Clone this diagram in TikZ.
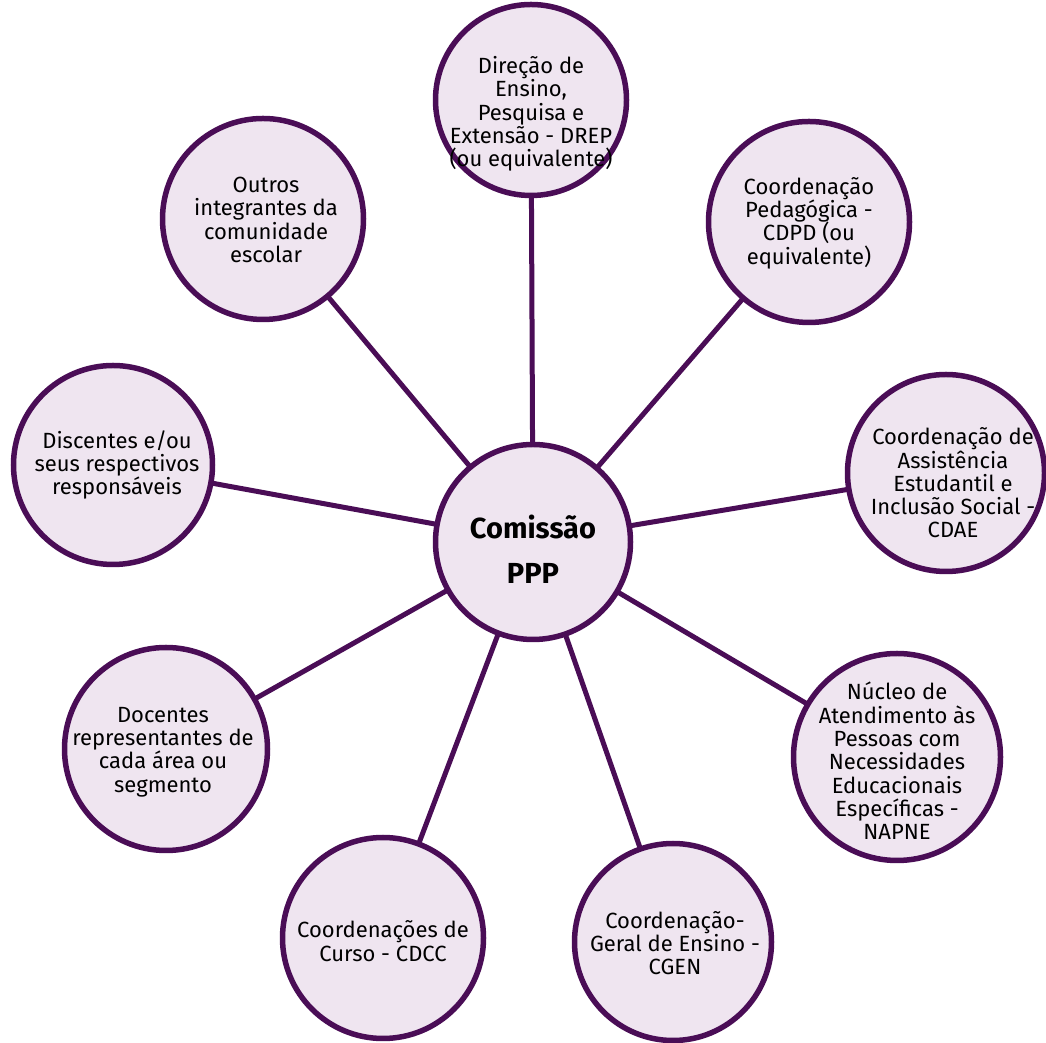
\documentclass[tikz,border=0pt]{standalone}
\usepackage{fontspec}
\setmainfont{Fira Sans}
\usetikzlibrary{backgrounds}
\definecolor{ring}{RGB}{74,13,86}
\definecolor{disc}{RGB}{239,229,240}
\tikzset{
  bub/.style={circle, draw=ring, line width=5.5pt, fill=disc, inner sep=0pt},
  txt/.style={align=center, font=\fontsize{22}{23.3}\selectfont, text=black, inner sep=0pt},
  spoke/.style={draw=ring, line width=5pt}
}
\begin{document}
\begin{tikzpicture}[x=1pt,y=1pt]
\useasboundingbox (0,0) rectangle (1046,1043);
% circles (y = 1043 - pixel y)
\node[bub, minimum size=195pt] (n0) at (533,501) {};
\node[bub, minimum size=191pt] (n1) at (531,943) {};
\node[bub, minimum size=201pt] (n2) at (809,821) {};
\node[bub, minimum size=197pt] (n3) at (946,570) {};
\node[bub, minimum size=207pt] (n4) at (897,286) {};
\node[bub, minimum size=197pt] (n5) at (673,101) {};
\node[bub, minimum size=201pt] (n6) at (383,105) {};
\node[bub, minimum size=203pt] (n7) at (166,294) {};
\node[bub, minimum size=199pt] (n8) at (113,578) {};
\node[bub, minimum size=201pt] (n9) at (263,824) {};
% spokes behind the circles
\begin{pgfonlayer}{background}
\foreach \i in {1,...,9} {
  \path[spoke] (n0.center) -- (n\i.center);
}
\end{pgfonlayer}
% texts
\node[align=center, inner sep=0pt, font=\fontsize{29}{45}\selectfont\bfseries] (t0) at (533,494) {Comissão\\PPP};
\node[txt] (t1) at (531,929) {Direção de\\Ensino,\\Pesquisa e\\Extensão - DREP\\(ou equivalente)};
\node[txt] (t2) at (809,820) {Coordenação\\Pedagógica -\\CDPD (ou\\equivalente)};
\node[txt] (t3) at (953,560) {Coordenação de\\Assistência\\Estudantil e\\Inclusão Social -\\CDAE};
\node[txt] (t4) at (897,282) {Núcleo de\\Atendimento às\\Pessoas com\\Necessidades\\Educacionais\\Específicas -\\NAPNE};
\node[txt] (t5) at (675,100) {Coordenação-\\Geral de Ensino -\\CGEN};
\node[txt] (t6) at (383,102) {Coordenações de\\Curso - CDCC};
\node[txt] (t7) at (163,291) {Docentes\\representantes de\\cada área ou\\segmento};
\node[txt] (t8) at (117,578) {Discentes e/ou\\seus respectivos\\responsáveis};
\node[txt] (t9) at (266,823) {Outros\\integrantes da\\comunidade\\escolar};
\end{tikzpicture}
\end{document}
